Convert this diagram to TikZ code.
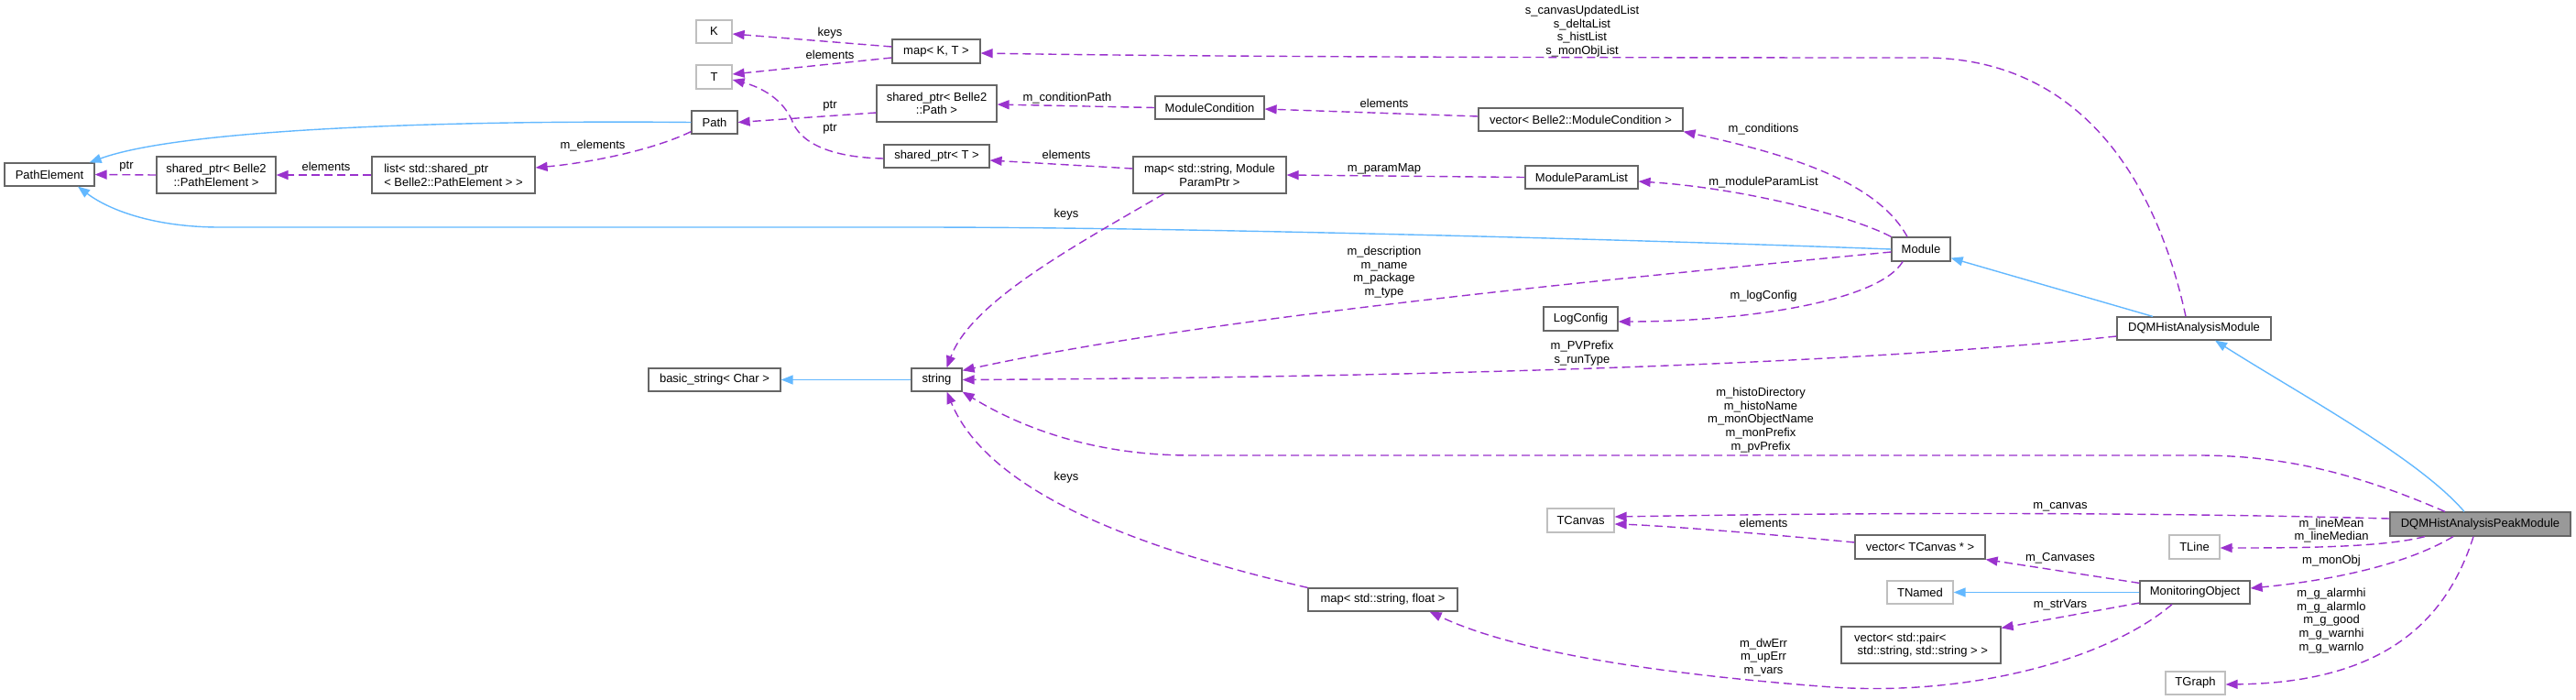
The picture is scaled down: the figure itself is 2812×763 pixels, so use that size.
\documentclass[tikz,border=0pt]{standalone}
\usepackage{fontspec}
\setmainfont{Liberation Sans}
\usetikzlibrary{arrows.meta}
\definecolor{usecol}{HTML}{9A32CD}
\definecolor{inhcol}{HTML}{63B8FF}
\definecolor{docb}{HTML}{666666}
\definecolor{undocb}{HTML}{BFBFBF}
\definecolor{mainfill}{HTML}{999999}
\begin{document}
\begin{tikzpicture}[x=1pt,y=-1pt,
 box/.style={draw=docb, fill=white, line width=1.2pt, inner sep=0pt, font=\fontsize{13}{14.7}\selectfont},
 ubox/.style={box, draw=undocb},
 mainbox/.style={box, fill=mainfill},
 usage/.style={draw=usecol, line width=1.4pt, dash pattern=on 9pt off 5pt, -{Triangle[length=13pt,width=10pt]}},
 inh/.style={draw=inhcol, line width=1.4pt, -{Triangle[length=13pt,width=10pt]}},
 lbl/.style={font=\fontsize{13}{14.7}\selectfont, align=center, inner sep=0pt}
]
\useasboundingbox (0,0) rectangle (2812,763);
% nodes
\node[ubox, minimum width=39pt, minimum height=25pt] (K) at (779.5,34.5) {K};
\node[ubox, minimum width=39pt, minimum height=26pt] (T) at (779.5,84) {T};
\node[box, minimum width=50pt, minimum height=25pt] (Path) at (780,133.5) {Path};
\node[box, minimum width=98pt, minimum height=25pt] (PE) at (54,190.5) {PathElement};
\node[box, minimum width=130pt, minimum height=40pt, align=center] (spPE) at (236,191) {shared\_ptr< Belle2\\::PathElement >};
\node[box, minimum width=178pt, minimum height=40pt, align=left] (list) at (495,191) {list< std::shared\_ptr\\< Belle2::PathElement > >};
\node[box, minimum width=96pt, minimum height=26pt] (mapKT) at (1022,56) {map< K, T >};
\node[box, minimum width=131pt, minimum height=40pt, align=center] (spPath) at (1022.5,113) {shared\_ptr< Belle2\\::Path >};
\node[box, minimum width=119pt, minimum height=25pt] (MC) at (1320.5,117.5) {ModuleCondition};
\node[box, minimum width=223pt, minimum height=25pt] (vecMC) at (1725.5,130.5) {vector< Belle2::ModuleCondition >};
\node[box, minimum width=115pt, minimum height=25pt] (spT) at (1022.5,170.5) {shared\_ptr< T >};
\node[box, minimum width=167pt, minimum height=40pt, align=center] (mapMP) at (1320.5,191) {map< std::string, Module\\ParamPtr >};
\node[box, minimum width=123pt, minimum height=25pt] (MPL) at (1726.5,193.5) {ModuleParamList};
\node[box, minimum width=81pt, minimum height=26pt] (LC) at (1725.5,348) {LogConfig};
\node[box, minimum width=64pt, minimum height=26pt] (Mod) at (2097,272) {Module};
\node[box, minimum width=168pt, minimum height=25pt] (DQM) at (2395,358.5) {DQMHistAnalysisModule};
\node[box, minimum width=144pt, minimum height=25pt] (bstr) at (780,414.5) {basic\_string< Char >};
\node[box, minimum width=55pt, minimum height=25pt] (str) at (1022.5,414.5) {string};
\node[ubox, minimum width=73pt, minimum height=26pt] (TC) at (1725.5,568) {TCanvas};
\node[box, minimum width=163pt, minimum height=25pt] (mapSF) at (1509.5,654.5) {map< std::string, float >};
\node[mainbox, minimum width=197pt, minimum height=26pt] (Peak) at (2707.5,572) {DQMHistAnalysisPeakModule};
\node[ubox, minimum width=55pt, minimum height=26pt] (TL) at (2395.5,597) {TLine};
\node[box, minimum width=142pt, minimum height=26pt] (vecTC) at (2096,597) {vector< TCanvas * >};
\node[ubox, minimum width=72pt, minimum height=25pt] (TN) at (2096,646.5) {TNamed};
\node[box, minimum width=120pt, minimum height=25pt] (MO) at (2396,646.5) {MonitoringObject};
\node[box, minimum width=174pt, minimum height=40pt, align=left] (vecP) at (2097,704) {vector< std::pair<\\\ std::string, std::string > >};
\node[ubox, minimum width=65pt, minimum height=25pt] (TG) at (2396.5,745.5) {TGraph};
% labels
\node[lbl] (l1) at (906,36) {keys};
\node[lbl] (l2) at (906,60) {elements};
\node[lbl] (l3) at (906,116) {ptr};
\node[lbl] (l4) at (906,141) {ptr};
\node[lbl] (l5) at (647,159) {m\_elements};
\node[lbl] (l6) at (356,182) {elements};
\node[lbl] (l7) at (138,182) {ptr};
\node[lbl] (l8) at (1727,34) {s\_canvasUpdatedList\\s\_deltaList\\s\_histList\\s\_monObjList};
\node[lbl] (l9) at (1165,107) {m\_conditionPath};
\node[lbl] (l10) at (1511,113) {elements};
\node[lbl] (l11) at (1164,169) {elements};
\node[lbl] (l12) at (1511,184) {m\_paramMap};
\node[lbl] (l13) at (1164,234) {keys};
\node[lbl] (l14) at (1511,297) {m\_description\\m\_name\\m\_package\\m\_type};
\node[lbl] (l15) at (1727,385.5) {m\_PVPrefix\\s\_runType};
\node[lbl] (l16) at (1925,141) {m\_conditions};
\node[lbl] (l17) at (1925,199) {m\_moduleParamList};
\node[lbl] (l18) at (1925,323) {m\_logConfig};
\node[lbl] (l19) at (1164,521) {keys};
\node[lbl] (l20) at (1922,458.5) {m\_histoDirectory\\m\_histoName\\m\_monObjectName\\m\_monPrefix\\m\_pvPrefix};
\node[lbl] (l21) at (2249,553) {m\_canvas};
\node[lbl] (l22) at (1925,571) {elements};
\node[lbl] (l23) at (2545,579) {m\_lineMean\\m\_lineMedian};
\node[lbl] (l24) at (2249,609) {m\_Canvases};
\node[lbl] (l25) at (2545,612) {m\_monObj};
\node[lbl] (l26) at (2249,660) {m\_strVars};
\node[lbl] (l27) at (2545,677.5) {m\_g\_alarmhi\\m\_g\_alarmlo\\m\_g\_good\\m\_g\_warnhi\\m\_g\_warnlo};
\node[lbl] (l28) at (1925,717.5) {m\_dwErr\\m\_upErr\\m\_vars};
% edges
\draw[usage] ([yshift=5pt]mapKT.west) -- ([yshift=-2.5pt]K.east);
\draw[usage] ([yshift=-7pt]mapKT.west) -- ([yshift=3pt]T.east);
\draw[usage] ([yshift=-10pt]spPath.west) -- (Path.east);
\draw[usage] ([yshift=-2.5pt]spT.west) .. controls (915,172) and (878,160) .. (866,135) .. controls (856,108) and (830,95) .. ([yshift=-3pt]T.east);
\draw[inh] (Path.west) .. controls (500,131) and (200,140) .. ([xshift=-6pt]PE.north east);
\draw[usage] (list.west) -- (spPE.east);
\draw[usage] (spPE.west) -- (PE.east);
\draw[usage] ([yshift=3pt]Path.south west) .. controls (710,165) and (640,178) .. ([yshift=8pt]list.east);
\draw[inh] (Mod.west) .. controls (1800,262) and (1300,248) .. (1000,248) -- (240,248) .. controls (170,248) and (120,230) .. ([xshift=31pt]PE.south);
\draw[usage] ([xshift=-15pt]Mod.north) .. controls (2050,200) and (1960,170) .. (vecMC.south east);
\draw[usage] (Mod.north west) .. controls (2020,235) and (1900,205) .. ([yshift=-4.5pt]MPL.east);
\draw[usage] ([xshift=-20pt]Mod.south) .. controls (2050,330) and (1900,351) .. ([yshift=-3pt]LC.east);
\draw[usage] ([yshift=-3pt]Mod.west) .. controls (1700,310) and (1300,350) .. ([yshift=-3pt]str.north east);
\draw[usage] ([yshift=3.5pt]vecMC.west) -- ([yshift=-1.5pt]MC.east);
\draw[usage] (MC.west) -- ([yshift=-1pt]spPath.east);
\draw[usage] ([yshift=7pt]mapMP.west) -- ([yshift=-4.5pt]spT.east);
\draw[usage] (MPL.west) -- (mapMP.east);
\draw[usage] ([xshift=-50pt]mapMP.south) .. controls (1170,270) and (1060,330) .. ([xshift=11pt]str.north);
\draw[inh] (str.west) -- (bstr.east);
\draw[inh] ([xshift=-45pt]DQM.north) -- ([yshift=4pt]Mod.south east);
\draw[usage] ([xshift=-9pt]DQM.north) .. controls (2350,180) and (2260,63) .. (2100,63) .. controls (1700,63) and (1300,62) .. ([yshift=-2pt]mapKT.east);
\draw[usage] ([yshift=-8.5pt]DQM.west) .. controls (2000,400) and (1500,412) .. (str.east);
\draw[inh] ([xshift=-17.5pt]Peak.north) .. controls (2640,500) and (2510,430) .. ([xshift=23pt]DQM.south);
\draw[usage] ([xshift=-38.5pt]Peak.north) .. controls (2580,520) and (2500,497) .. (2400,497) -- (1300,497) .. controls (1200,497) and (1120,470) .. (str.south east);
\draw[usage] ([yshift=6pt]Peak.west) .. controls (2300,558) and (2000,560) .. ([yshift=4pt]TC.east);
\draw[usage] ([yshift=5pt]vecTC.west) .. controls (1900,580) and (1800,573) .. ([yshift=-4pt]TC.east);
\draw[usage] ([xshift=-60.5pt]Peak.south) .. controls (2600,598) and (2500,598) .. ([yshift=-1pt]TL.east);
\draw[usage] ([yshift=-3pt]MO.north west) -- (vecTC.south east);
\draw[usage] ([xshift=-29.5pt]Peak.south) .. controls (2620,620) and (2530,635) .. ([yshift=4.5pt]MO.east);
\draw[inh] (MO.west) -- (TN.east);
\draw[usage] ([yshift=-11.5pt]MO.west) -- ([yshift=-2pt]vecP.north east);
\draw[usage] ([xshift=-25pt]MO.south) .. controls (2300,720) and (2150,760) .. (2000,750) .. controls (1800,735) and (1650,710) .. ([xshift=-31pt]mapSF.south east);
\draw[usage] ([xshift=-7.5pt]Peak.south) .. controls (2670,680) and (2600,745) .. ([yshift=-1.5pt]TG.east);
\draw[usage] (mapSF.north west) .. controls (1250,600) and (1080,540) .. ([xshift=11pt]str.south);
\end{tikzpicture}
\end{document}
